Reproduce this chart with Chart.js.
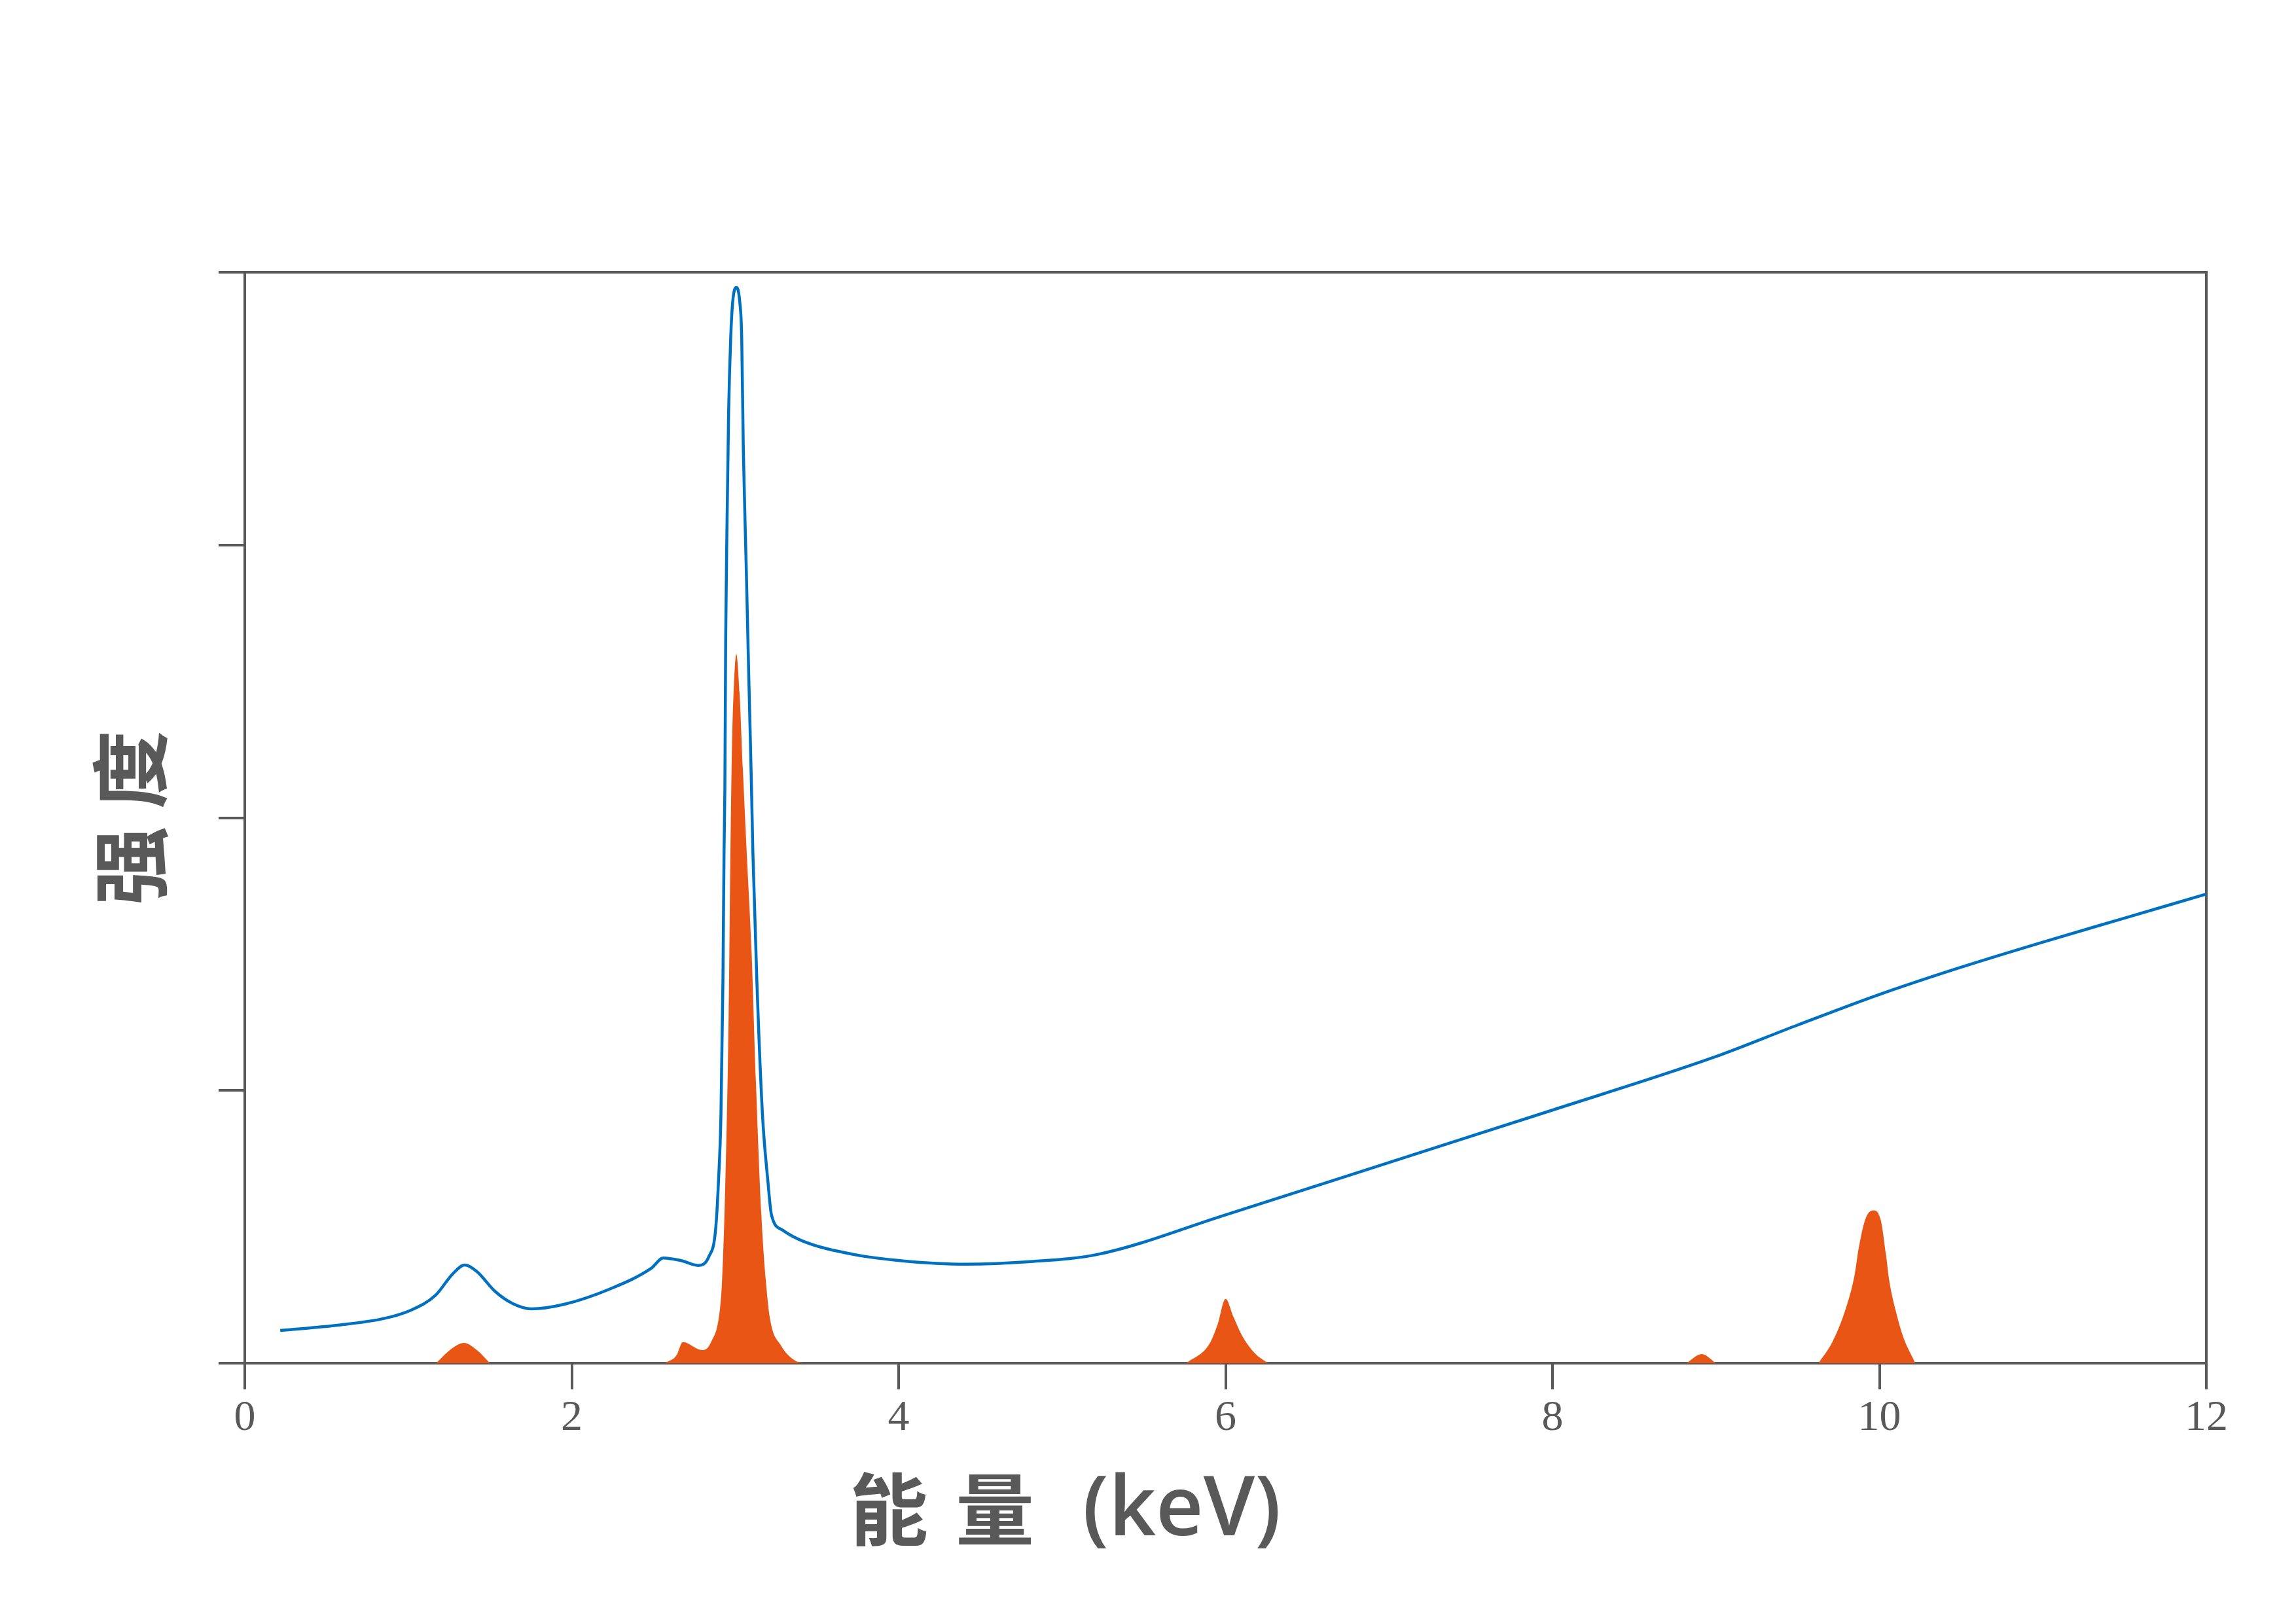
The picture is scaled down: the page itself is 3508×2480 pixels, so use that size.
<!DOCTYPE html>
<html>
<head>
<meta charset="utf-8">
<script src="https://cdn.jsdelivr.net/npm/chart.js@4/dist/chart.umd.min.js"></script>
<style>
  html, body { margin: 0; padding: 0; background: #fff; }
  canvas { display: block; }
</style>
</head>
<body>
<canvas id="spectrum" width="3508" height="2480"></canvas>
<script>
// axis text
const xTitleParts = ['能', '量', '(keV)'];
const yTitle = '强 度';
const xTicks = [0, 2, 4, 6, 8, 10, 12];

// blue spectrum (keV / relative intensity)
const blueEnergy = [
  0.217, 0.577, 0.853, 1.017, 1.165, 1.273, 1.345, 1.42, 1.53, 1.64, 1.753,
  1.954, 2.23, 2.487, 2.56, 2.67, 2.774, 2.84, 2.88, 2.898, 2.913, 2.925,
  2.932, 2.937, 2.942, 2.95, 2.96, 2.973, 2.985, 3.007, 3.028, 3.04, 3.05,
  3.067, 3.083, 3.1, 3.108, 3.133, 3.167, 3.2, 3.222, 3.29, 3.413, 3.72,
  4.026, 4.41, 4.793, 5.22, 6.0, 7.0, 8.0, 8.98, 9.5, 10.0, 10.5, 11.0,
  11.5, 12.0
];
const blueIntensity = [
  3.0, 3.5, 4.1, 4.86, 6.2, 8.2, 9.0, 8.4, 6.6, 5.46, 4.98,
  5.4, 6.78, 8.7, 9.65, 9.4, 8.96, 9.8, 12.2, 16.7, 22.8, 34.9,
  47, 52.7, 66.5, 76.8, 87.2, 94.1, 97.3, 98.6, 97.3, 94, 83.7,
  73.4, 63.1, 52.7, 47, 34.9, 22.8, 16.7, 13.6, 12.2, 11.2, 9.98,
  9.38, 9.08, 9.3, 9.98, 13.6, 18.4, 23.2, 28.0, 31.0, 33.8, 36.3, 38.6,
  40.8, 43.0
];

// orange peaks (null = gap between peaks)
const orangeEnergy = [
  1.17, 1.27, 1.34, 1.42, 1.5, 1.5,
  2.57, 2.64, 2.68, 2.8, 2.853, 2.907, 2.92, 2.94, 2.96, 2.971, 2.98, 2.99,
  3.007, 3.027, 3.047, 3.07, 3.1, 3.127, 3.16, 3.187, 3.213, 3.28, 3.36, 3.415, 3.415,
  5.76, 5.9, 5.95, 6.0, 6.05, 6.1, 6.18, 6.26, 6.26,
  8.82, 8.913, 9.0, 9.0,
  9.627, 9.714, 9.794, 9.847, 9.874, 9.914, 9.961, 10.007, 10.04, 10.06, 10.1,
  10.146, 10.22
];
const orangeIntensity = [
  0, 1.38, 1.86, 1.2, 0, null,
  0, 0.7, 1.94, 1.2, 1.95, 5.0, 7.7, 16.7, 31.9, 47, 56.2, 61.4,
  65.0, 61.4, 54.5, 47, 37.9, 25.8, 13.7, 7.7, 4.1, 1.64, 0.3, 0, null,
  0, 1.74, 3.5, 5.9, 4.2, 2.55, 0.9, 0, null,
  0, 0.84, 0, null,
  0, 2.0, 5.0, 8.0, 10.6, 13.2, 14.0, 13.2, 10.0, 7.6, 4.8,
  2.4, 0
];

const gray = '#595959';
const blue = '#0070C0';
const orange = '#E85515';

const toPoints = (xs, ys) => xs.map((x, i) => ({ x: x, y: ys[i] }));

// axis titles drawn beside the plot
const axisTitles = {
  id: 'axisTitles',
  afterDraw(chart) {
    const { ctx, chartArea } = chart;
    const cjk = 'bold 120px "Noto Sans CJK SC"';
    const latin = '600 126px "Open Sans"';
    ctx.save();
    ctx.fillStyle = gray;
    ctx.textAlign = 'left';
    ctx.textBaseline = 'middle';
    // x title, laid out left to right with wide gaps
    let x = chartArea.left + 924;
    const y = chartArea.bottom + 223;
    const gaps = [42, 74, 0];
    xTitleParts.forEach((t, i) => {
      ctx.font = i < 2 ? cjk : latin;
      ctx.fillText(t, x, i < 2 ? y : y + 4);
      x += ctx.measureText(t).width + gaps[i];
    });
    // y title
    ctx.font = cjk;
    ctx.textAlign = 'center';
    ctx.translate(chartArea.left - 175, (chartArea.top + chartArea.bottom) / 2);
    ctx.rotate(-Math.PI / 2);
    ctx.fillText(yTitle, 0, 0);
    ctx.restore();
  }
};

new Chart(document.getElementById('spectrum'), {
  type: 'line',
  data: {
    datasets: [
      {
        data: toPoints(blueEnergy, blueIntensity),
        borderColor: blue,
        borderWidth: 4.5,
        pointRadius: 0,
        fill: false,
        cubicInterpolationMode: 'monotone'
      },
      {
        data: toPoints(orangeEnergy, orangeIntensity),
        borderColor: 'rgba(0,0,0,0)',
        backgroundColor: orange,
        pointRadius: 0,
        fill: 'origin',
        spanGaps: false,
        cubicInterpolationMode: 'monotone'
      }
    ]
  },
  options: {
    responsive: false,
    animation: false,
    devicePixelRatio: 1,
    layout: { padding: { left: 334, right: 137, top: 416, bottom: 197 } },
    plugins: { legend: { display: false }, tooltip: { enabled: false } },
    scales: {
      x: {
        type: 'linear',
        min: 0,
        max: 12,
        z: 1,
        afterFit: s => { s.height = 200; },
        afterBuildTicks: s => { s.ticks = xTicks.map(v => ({ value: v })); },
        grid: { drawOnChartArea: false, drawTicks: true, tickLength: 40, color: gray, lineWidth: 4 },
        border: { display: true, color: gray, width: 4 },
        ticks: {
          padding: 5,
          color: gray,
          font: { family: '"Liberation Serif"', size: 66 }
        }
      },
      y: {
        type: 'linear',
        min: 0,
        max: 100,
        z: 1,
        afterFit: s => { s.width = 40; },
        ticks: { stepSize: 25, display: false },
        grid: { drawOnChartArea: false, drawTicks: true, tickLength: 40, color: gray, lineWidth: 4 },
        border: { display: true, color: gray, width: 4 }
      },
      x2: {
        type: 'linear',
        position: 'top',
        min: 0,
        max: 12,
        grid: { display: false, drawTicks: false },
        ticks: { display: false },
        border: { display: true, color: gray, width: 4 }
      },
      y2: {
        type: 'linear',
        position: 'right',
        min: 0,
        max: 100,
        grid: { display: false, drawTicks: false },
        ticks: { display: false },
        border: { display: true, color: gray, width: 4 }
      }
    }
  },
  plugins: [axisTitles]
});
</script>
</body>
</html>
